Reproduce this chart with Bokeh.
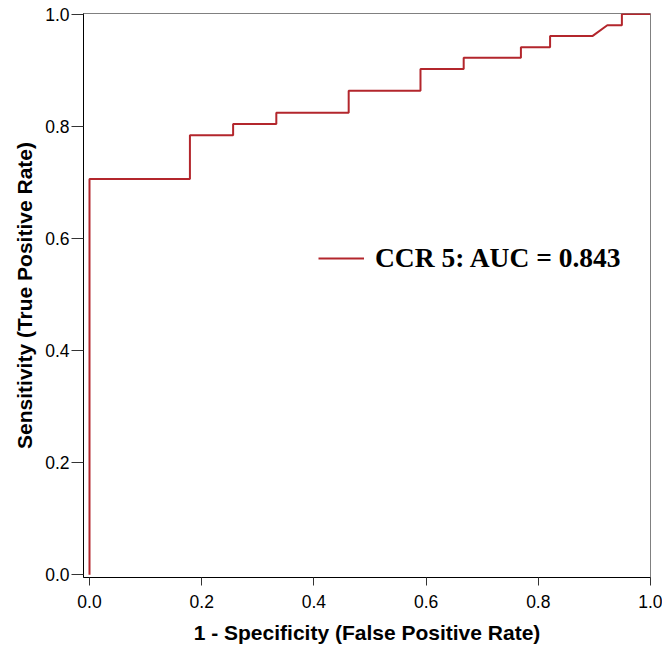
from bokeh.plotting import figure
from bokeh.models import Range1d, FixedTicker, PrintfTickFormatter, Legend, LegendItem
from bokeh.embed import file_html
from bokeh.resources import INLINE

# ROC curve
fpr = [0.0, 0.0, 0.179, 0.179, 0.256, 0.256, 0.333, 0.333, 0.462, 0.462, 0.590, 0.590,
       0.667, 0.667, 0.769, 0.769, 0.821, 0.821, 0.897, 0.923, 0.949, 0.949, 1.0]
tpr = [0.0, 0.706, 0.706, 0.784, 0.784, 0.804, 0.804, 0.824, 0.824, 0.863, 0.863, 0.902,
       0.902, 0.922, 0.922, 0.941, 0.941, 0.961, 0.961, 0.980, 0.980, 1.0, 1.0]
ticks = [0.0, 0.2, 0.4, 0.6, 0.8, 1.0]
series_label = "CCR 5: AUC = 0.843"
x_title = "1 - Specificity (False Positive Rate)"
y_title = "Sensitivity (True Positive Rate)"

p = figure(width=662, height=650, output_backend="svg", toolbar_location=None,
           x_range=Range1d(-0.0107, 1.0), y_range=Range1d(-0.005, 1.001),
           min_border_left=83, min_border_right=12, min_border_top=13, min_border_bottom=73)
p.background_fill_color = "white"
p.border_fill_color = "white"
p.outline_line_color = "#808080"
p.outline_line_width = 1
p.xgrid.visible = False
p.ygrid.visible = False

r = p.line(fpr, tpr, line_color="#b3262c", line_width=2)

for ax, tick_out in ((p.xaxis[0], 8), (p.yaxis[0], 12)):
    ax.ticker = FixedTicker(ticks=ticks)
    ax.formatter = PrintfTickFormatter(format="%.1f")
    ax.minor_tick_line_color = None
    ax.major_tick_in = 0
    ax.major_tick_out = tick_out
    ax.major_tick_line_color = "#333333"
    ax.axis_line_color = "black"
    ax.major_label_text_font = "Liberation Sans"
    ax.major_label_text_font_size = "17.5px"
    ax.major_label_text_color = "black"
    ax.axis_label_text_font = "Liberation Sans"
    ax.axis_label_text_font_style = "bold"
    ax.axis_label_text_font_size = "21px"
    ax.axis_label_text_color = "black"

p.xaxis[0].axis_label = x_title
p.yaxis[0].axis_label = y_title
p.xaxis[0].major_label_standoff = 9
p.yaxis[0].major_label_standoff = 2
p.xaxis[0].axis_label_standoff = 10
p.yaxis[0].axis_label_standoff = 6

legend = Legend(items=[LegendItem(label=series_label, renderers=[r])],
                location=(235, 303), orientation="vertical",
                glyph_width=46, label_standoff=11, padding=0, margin=0,
                border_line_color=None, background_fill_alpha=0,
                label_text_font="Liberation Serif", label_text_font_style="bold",
                label_text_font_size="27.5px", label_text_color="black")
p.add_layout(legend)

open("out.html", "w").write(file_html(p, INLINE))
